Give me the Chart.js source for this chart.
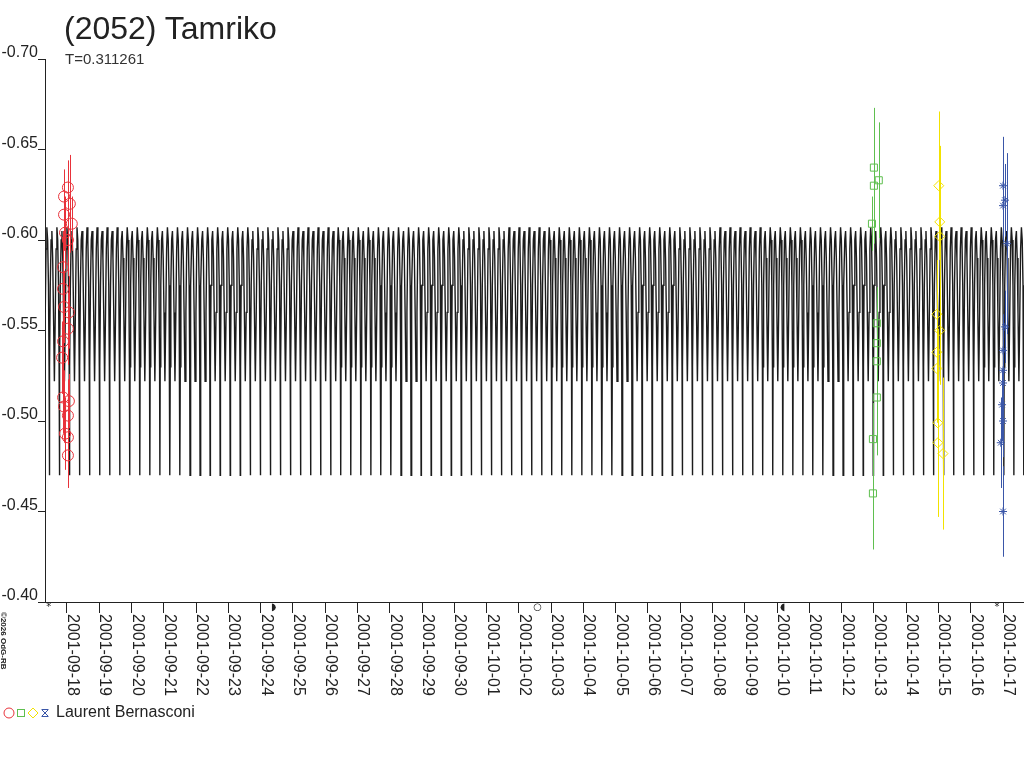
<!DOCTYPE html>
<html lang="en">
<head>
<meta charset="UTF-8" />
<title>(2052) Tamriko</title>
<script src="https://cdn.jsdelivr.net/npm/chart.js@4.4.1/dist/chart.umd.min.js"></script>
<style>
	body { margin:0; background:#fff; font-family:"Liberation Sans", Arial, sans-serif; }
	#wrap { position:relative; width:1024px; height:768px; }
	#myChart { position:absolute; left:0; top:0; }
	.title { position:absolute; left:64px; top:10px; font-size:32px; color:#222; }
	.sub { position:absolute; left:65px; top:50px; font-size:15px; color:#333; }
</style>
</head>
<body>
<div id="wrap">
	<canvas id="myChart" width="1024" height="768"></canvas>
	<div class="title">(2052) Tamriko</div>
	<div class="sub">T=0.311261</div>
</div>
<script>
// x values are days since 2001-09-18 00:00
const tickLabels = ['2001-09-18','2001-09-19','2001-09-20','2001-09-21','2001-09-22','2001-09-23',
	'2001-09-24','2001-09-25','2001-09-26','2001-09-27','2001-09-28','2001-09-29','2001-09-30',
	'2001-10-01','2001-10-02','2001-10-03','2001-10-04','2001-10-05','2001-10-06','2001-10-07',
	'2001-10-08','2001-10-09','2001-10-10','2001-10-11','2001-10-12','2001-10-13','2001-10-14',
	'2001-10-15','2001-10-16','2001-10-17'];
const yTicks = [-0.70, -0.65, -0.60, -0.55, -0.50, -0.45, -0.40];
const xMin = -0.68, xMax = 29.65;

// model lightcurve: one period, repeated with T
const period = 0.311261;
const modelEpoch = 0.0;
const modelPhase = [0, 0.08, 0.16, 0.22, 0.25, 0.28, 0.34, 0.42, 0.50, 0.58, 0.66, 0.75, 0.84, 0.92];
const modelMag = [-0.607, -0.600, -0.575, -0.530, -0.470, -0.530, -0.575, -0.600, -0.605, -0.590, -0.560, -0.522, -0.560, -0.595];

// observations (Laurent Bernasconi)
const redX = [0.03, -0.09, 0.09, -0.09, 0.15, -0.06, 0.03, -0.12, -0.12, -0.09, 0.06, 0.03, -0.12, -0.15, -0.12, 0.06, -0.09, 0.03, -0.06, 0.03, 0.03];
const redY = [-0.629, -0.624, -0.620, -0.614, -0.609, -0.604, -0.600, -0.585, -0.573, -0.563, -0.560, -0.551, -0.544, -0.535, -0.513, -0.511, -0.508, -0.503, -0.493, -0.491, -0.481];
const redErr = [0.015, 0.015, 0.027, 0.02, 0.015, 0.02, 0.02, 0.02, 0.02, 0.02, 0.02, 0.02, 0.02, 0.02, 0.02, 0.015, 0.02, 0.02, 0.02, 0.02, 0.018];

const greenX = [25.00, 25.00, 25.15, 24.94, 25.09, 25.09, 25.09, 25.09, 24.97, 24.97];
const greenY = [-0.640, -0.630, -0.633, -0.609, -0.554, -0.543, -0.533, -0.513, -0.490, -0.460];
const greenErr = [0.033, 0.032, 0.032, 0.015, 0.02, 0.02, 0.015, 0.032, 0.02, 0.031];

const yellowX = [27.01, 27.04, 27.04, 26.95, 27.04, 26.95, 26.95, 26.98, 26.98, 27.14];
const yellowY = [-0.630, -0.610, -0.602, -0.559, -0.550, -0.538, -0.529, -0.499, -0.488, -0.482];
const yellowErr = [0.041, 0.042, 0.04, 0.03, 0.03, 0.03, 0.03, 0.052, 0.04, 0.042];

const blueX = [29.00, 29.06, 29.00, 29.12, 29.06, 29.00, 29.00, 29.00, 28.97, 29.00, 28.93, 29.00];
const blueY = [-0.630, -0.622, -0.619, -0.598, -0.552, -0.539, -0.528, -0.521, -0.509, -0.500, -0.488, -0.450];
const blueErr = [0.027, 0.02, 0.02, 0.05, 0.02, 0.02, 0.02, 0.02, 0.02, 0.02, 0.025, 0.025];

// moon phases marked on the time axis
const moonDays = [-0.56, 6.40, 14.58, 22.18, 28.81];
const moonSymbols = ['*', '◗', '○', '◖', '*'];

const observer = 'Laurent Bernasconi';

function pts(xs, ys, es) {
	return xs.map((x, i) => ({ x: x, y: ys[i], e: es[i] }));
}

let model = [];
for (let k = Math.floor((xMin - modelEpoch) / period); modelEpoch + k * period <= xMax; k++) {
	modelPhase.forEach((p, j) => {
		const x = modelEpoch + (k + p) * period;
		if (x >= xMin && x <= xMax) model.push({ x: x, y: modelMag[j] });
	});
}

const ink = '#222';
const fontName = '"Liberation Sans", Arial, sans-serif';

const errorBars = {
	id: 'errorBars',
	afterDatasetsDraw(chart) {
		const ctx = chart.ctx, ys = chart.scales.y, xs = chart.scales.x, a = chart.chartArea;
		ctx.save();
		ctx.beginPath();
		ctx.rect(a.left, a.top, a.right - a.left, a.bottom - a.top);
		ctx.clip();
		ctx.lineWidth = 1;
		chart.data.datasets.forEach(ds => {
			if (!ds.errors) return;
			ctx.strokeStyle = ds.borderColor;
			ds.data.forEach(p => {
				const x = Math.round(xs.getPixelForValue(p.x)) + 0.5;
				ctx.beginPath();
				ctx.moveTo(x, ys.getPixelForValue(p.y - p.e));
				ctx.lineTo(x, ys.getPixelForValue(p.y + p.e));
				ctx.stroke();
			});
		});
		ctx.restore();
	}
};

const extras = {
	id: 'extras',
	afterDraw(chart) {
		const ctx = chart.ctx, xs = chart.scales.x;
		ctx.save();
		// date labels, reading top to bottom
		ctx.fillStyle = ink;
		ctx.font = '16px ' + fontName;
		ctx.textAlign = 'left';
		ctx.textBaseline = 'alphabetic';
		tickLabels.forEach((lab, i) => {
			const x = xs.getPixelForValue(i);
			ctx.save();
			ctx.translate(x + 1, 614);
			ctx.rotate(Math.PI / 2);
			ctx.fillText(lab, 0, 0);
			ctx.restore();
		});
		// moon phases
		ctx.font = '10px "DejaVu Sans", sans-serif';
		ctx.textAlign = 'center';
		ctx.textBaseline = 'middle';
		moonDays.forEach((d, i) => {
			ctx.fillText(moonSymbols[i], xs.getPixelForValue(d), 607);
		});
		// copyright
		ctx.save();
		ctx.font = 'bold 8px ' + fontName;
		ctx.textAlign = 'left';
		ctx.textBaseline = 'alphabetic';
		ctx.translate(1, 612);
		ctx.rotate(Math.PI / 2);
		ctx.fillText('©2026 OdG-RB', 0, 0);
		ctx.restore();
		// legend
		const ly = 713;
		ctx.lineWidth = 1;
		ctx.strokeStyle = '#e8323a';
		ctx.beginPath(); ctx.arc(9, ly, 5, 0, Math.PI * 2); ctx.stroke();
		ctx.strokeStyle = '#5fbf4f';
		ctx.strokeRect(17.5, ly - 3.5, 7, 7);
		ctx.strokeStyle = '#f2e200';
		ctx.beginPath(); ctx.moveTo(33, ly - 5); ctx.lineTo(38, ly); ctx.lineTo(33, ly + 5); ctx.lineTo(28, ly); ctx.closePath(); ctx.stroke();
		ctx.strokeStyle = '#3a56a8';
		ctx.beginPath();
		ctx.moveTo(41.5, ly - 3.5); ctx.lineTo(48.5, ly + 3.5);
		ctx.moveTo(48.5, ly - 3.5); ctx.lineTo(41.5, ly + 3.5);
		ctx.moveTo(42, ly - 3.5); ctx.lineTo(48, ly - 3.5);
		ctx.moveTo(42, ly + 3.5); ctx.lineTo(48, ly + 3.5);
		ctx.stroke();
		ctx.fillStyle = ink;
		ctx.font = '16px ' + fontName;
		ctx.textAlign = 'left';
		ctx.textBaseline = 'middle';
		ctx.fillText(observer, 56, ly);
		ctx.restore();
	}
};

const ctx = document.getElementById('myChart').getContext('2d');
const chart = new Chart(ctx, {
	type: 'scatter',
	data: {
		datasets: [{
			label: 'red',
			data: pts(redX, redY, redErr),
			errors: true,
			pointStyle: 'circle',
			pointRadius: 5.5,
			borderColor: '#e8323a',
			backgroundColor: 'rgba(0,0,0,0)',
			borderWidth: 1
		}, {
			label: 'green',
			data: pts(greenX, greenY, greenErr),
			errors: true,
			pointStyle: 'rect',
			pointRadius: 5,
			borderColor: '#5fbf4f',
			backgroundColor: 'rgba(0,0,0,0)',
			borderWidth: 1
		}, {
			label: 'yellow',
			data: pts(yellowX, yellowY, yellowErr),
			errors: true,
			pointStyle: 'rectRot',
			pointRadius: 5,
			borderColor: '#f2e200',
			backgroundColor: 'rgba(0,0,0,0)',
			borderWidth: 1
		}, {
			label: 'blue',
			data: pts(blueX, blueY, blueErr),
			errors: true,
			pointStyle: 'star',
			pointRadius: 4,
			borderColor: '#3a56a8',
			backgroundColor: 'rgba(0,0,0,0)',
			borderWidth: 1
		}, {
			type: 'line',
			label: 'model',
			data: model,
			order: 10,
			showLine: true,
			borderColor: '#1c1c1c',
			borderWidth: 1.4,
			pointRadius: 0,
			tension: 0
		}]
	},
	options: {
		responsive: false,
		animation: false,
		devicePixelRatio: 1,
		layout: { autoPadding: false, padding: { top: 59, right: 0, bottom: 0, left: 0 } },
		plugins: { legend: { display: false }, tooltip: { enabled: false } },
		scales: {
			x: {
				type: 'linear',
				min: xMin,
				max: xMax,
				afterBuildTicks: s => { s.ticks = tickLabels.map((_, i) => ({ value: i })); },
				afterFit: s => { s.height = 166; },
				ticks: { display: false },
				grid: { drawOnChartArea: false, drawTicks: true, tickLength: 11, color: ink },
				border: { display: true, color: ink }
			},
			y: {
				type: 'linear',
				reverse: true,
				min: -0.70,
				max: -0.40,
				afterBuildTicks: s => { s.ticks = yTicks.map(v => ({ value: v })); },
				afterFit: s => { s.width = 45; },
				ticks: {
					padding: 0,
					labelOffset: -6,
					color: ink,
					font: { family: fontName, size: 16 },
					callback: v => v.toFixed(2)
				},
				grid: { drawOnChartArea: false, drawTicks: true, tickLength: 7, color: ink },
				border: { display: true, color: ink }
			}
		}
	},
	plugins: [errorBars, extras]
});
</script>
</body>
</html>
